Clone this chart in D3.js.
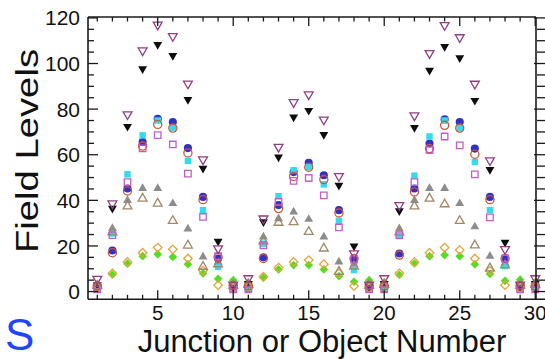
<!DOCTYPE html>
<html>
<head>
<meta charset="utf-8">
<script src="https://cdn.jsdelivr.net/npm/d3@7"></script>
<style>
  html, body { margin: 0; padding: 0; background: #fff; }
  svg { display: block; }
  text { font-family: "Liberation Sans", Arial, sans-serif; fill: #111; }
</style>
</head>
<body>
<script>
// Junction / object index
const junctions = d3.range(1, 31);

// Field levels per junction for each measurement set
const openTriDown  = [5.5, 38.6, 77.7, 105.7, 117, 112, 91.2, 57.9, 18.9, 3, 5.8, 32, 63.4, 83, 86.4, 75.4, 50.6, 16.7, 3, 5.8, 37.9, 77.2, 104.5, 116.8, 111.5, 91.1, 57.5, 18.6, 3, 5.8];
const filledTriDown = [3, 36.5, 72.4, 97.7, 108.3, 103.5, 84.2, 54, 22, 2, 3.5, 30.6, 59, 76.5, 79.4, 68.8, 46.6, 19.9, 2, 3.5, 35.4, 71.9, 97, 107.4, 102.5, 83.8, 53.5, 21.6, 2, 3.5];
const filledCircle = [1.5, 18, 45.2, 65.6, 75.8, 74.3, 62.9, 41.5, 14.5, 1.5, 1.5, 15, 37.9, 52.4, 56.5, 51, 35.7, 14, 1.5, 1.5, 16.7, 45.2, 64.9, 75.5, 74.3, 62.7, 41.5, 14, 1.5, 1.5];
const openCircle   = [2.5, 17, 44.1, 63.8, 73.3, 71.7, 60.8, 40.3, 15, 2.5, 2.5, 14.5, 36.4, 50.5, 54.5, 49.1, 34.5, 14.5, 2.5, 2.5, 16, 43.7, 62.7, 72.9, 71.7, 60.2, 40.3, 14.5, 2.5, 2.5];
const filledSquare = [1.5, 25.5, 51.4, 68.5, 75, 71.9, 57.3, 35.7, 10.8, 1.5, 1.5, 21, 41.8, 53.2, 54.6, 47, 31, 9.4, 1.5, 1.5, 24.3, 50.8, 68, 75, 71.7, 56.8, 35.7, 11.2, 1.5, 1.5];
const openSquare   = [1, 24.7, 48, 62.8, 68.6, 64.5, 51.7, 32.7, 15.5, 1, 1, 20.3, 39.3, 48.5, 49.8, 42.2, 28.1, 14, 1, 1, 24.7, 48, 62, 68, 64.1, 51.4, 32.5, 14.5, 1, 1];
const filledTriUp  = [3, 27.7, 40, 45.2, 45.2, 38.6, 27.5, 15.2, 13, 3.5, 3, 24, 32, 34.9, 31.7, 24, 13, 12, 3.5, 3, 27.6, 40, 45.2, 45.2, 38.6, 28.4, 15.5, 12.5, 3.5, 3];
const openTriUp    = [2.5, 26, 37.4, 40.8, 38.6, 31, 20.2, 10.9, 12, 2.5, 3, 22, 30.2, 30.5, 26.2, 18.9, 8.7, 11, 2.5, 3, 26, 37.4, 40.8, 38.3, 31, 20.3, 10.2, 11.5, 2.5, 3];
const openDiamond  = [2, 8, 13, 17, 19.3, 18.5, 14.5, 9.2, 2.8, 1.5, 2, 6.5, 10.5, 13, 13.8, 12, 8, 2.4, 1.5, 2, 8, 13, 17, 19.3, 18.2, 14.5, 9.1, 2.8, 1.5, 2];
const filledDiamond = [3, 7.4, 12.2, 15.5, 16.4, 15.2, 12, 8, 5.6, 5, 4, 6.1, 9.7, 11.6, 11.6, 9.7, 6.8, 4.3, 5, 4, 7.3, 12.3, 15.5, 16, 15.5, 12, 7.7, 4.7, 5.2, 4];

// Axis ticks
const xMajorTicks = [5, 10, 15, 20, 25, 30];
const yMajorTicks = [0, 20, 40, 60, 80, 100, 120];

const W = 545, H = 359;
const plot = { left: 88, right: 536, top: 17, bottom: 299.3 };

const x = d3.scaleLinear().domain([0.384, 30.05]).range([plot.left, plot.right]);
const y = d3.scaleLinear().domain([-3.4, 120.4]).range([plot.bottom, plot.top]);

const svg = d3.select("body").append("svg").attr("width", W).attr("height", H);

// marker definitions, in drawing order (filled first, outlines on top)
const series = [
  { values: filledDiamond, shape: d3.symbolSquare,   rot: 45,  fill: "#55dd22", stroke: "none",    size: 38 },
  { values: filledTriUp,   shape: d3.symbolTriangle, rot: 0,   fill: "#8c8c8c", stroke: "none",    size: 34 },
  { values: filledCircle,  shape: d3.symbolCircle,   rot: 0,   fill: "#3330c8", stroke: "none",    size: 52 },
  { values: filledSquare,  shape: d3.symbolSquare,   rot: 0,   fill: "#33dcec", stroke: "none",    size: 42 },
  { values: filledTriDown, shape: d3.symbolTriangle, rot: 180, fill: "#0d0d0d", stroke: "none",    size: 34 },
  { values: openDiamond,   shape: d3.symbolSquare,   rot: 45,  fill: "none",    stroke: "#e8a23a", size: 36 },
  { values: openTriUp,     shape: d3.symbolTriangle, rot: 0,   fill: "none",    stroke: "#a08868", size: 34 },
  { values: openCircle,    shape: d3.symbolCircle,   rot: 0,   fill: "none",    stroke: "#cc5533", size: 52 },
  { values: openSquare,    shape: d3.symbolSquare,   rot: 0,   fill: "none",    stroke: "#c25ec4", size: 42 },
  { values: openTriDown,   shape: d3.symbolTriangle, rot: 180, fill: "none",    stroke: "#8f3f82", size: 34 }
];

const marks = svg.append("g");
series.forEach(s => {
  const path = d3.symbol().type(s.shape).size(s.size)();
  marks.append("g").selectAll("path")
    .data(junctions.map((j, i) => ({ j, v: s.values[i] })))
    .join("path")
    .attr("d", path)
    .attr("transform", d => `translate(${x(d.j)},${y(d.v)}) rotate(${s.rot})`)
    .attr("fill", s.fill)
    .attr("stroke", s.stroke)
    .attr("stroke-width", s.stroke === "none" ? 0 : 1.3);
});

// frame and ticks
const axisColor = "#1a1a1a";
const frame = svg.append("g").attr("stroke", axisColor).attr("fill", "none");
frame.append("line").attr("x1", plot.left).attr("x2", 545).attr("y1", plot.bottom).attr("y2", plot.bottom).attr("stroke-width", 1.6);
frame.append("line").attr("x1", plot.left).attr("x2", plot.right).attr("y1", plot.top).attr("y2", plot.top).attr("stroke-width", 1.6);
frame.append("line").attr("x1", plot.left).attr("x2", plot.left).attr("y1", plot.top).attr("y2", plot.bottom).attr("stroke-width", 1.6);
frame.append("line").attr("x1", plot.right).attr("x2", plot.right).attr("y1", plot.top).attr("y2", plot.bottom).attr("stroke-width", 1.6);

const xMinor = d3.range(1, 31);
xMinor.forEach(t => {
  const major = xMajorTicks.includes(t);
  const px = x(t);
  const len = major ? 9 : 4.5;
  frame.append("line").attr("x1", px).attr("x2", px).attr("y1", plot.bottom).attr("y2", plot.bottom - len).attr("stroke-width", 1.3);
  frame.append("line").attr("x1", px).attr("x2", px).attr("y1", plot.top).attr("y2", plot.top + len).attr("stroke-width", 1.3);
});

const yMinor = d3.range(0, 121, 5);
yMinor.forEach(t => {
  const major = yMajorTicks.includes(t);
  const py = y(t);
  frame.append("line").attr("x1", plot.left).attr("x2", plot.left + (major ? 10 : 6)).attr("y1", py).attr("y2", py).attr("stroke-width", 1.3);
  frame.append("line").attr("x1", major ? plot.right - 2 : plot.right + 1).attr("x2", 548).attr("y1", py).attr("y2", py).attr("stroke-width", 1.3);
});

// tick labels
svg.append("g").selectAll("text").data(yMajorTicks).join("text")
  .attr("x", 80).attr("y", d => y(d)).attr("dy", "0.36em")
  .attr("text-anchor", "end").attr("font-size", 21)
  .text(d => d);

svg.append("g").selectAll("text").data(xMajorTicks).join("text")
  .attr("x", d => x(d)).attr("y", 319.5)
  .attr("text-anchor", "middle").attr("font-size", 20.5)
  .text(d => d);

// axis titles
svg.append("text").attr("x", 322).attr("y", 352.3)
  .attr("text-anchor", "middle").attr("font-size", 31)
  .text("Junction or Object Number");

svg.append("text")
  .attr("transform", "translate(38,151) rotate(-90)")
  .attr("text-anchor", "middle").attr("font-size", 31)
  .attr("textLength", 204).attr("lengthAdjust", "spacingAndGlyphs")
  .text("Field Levels");

svg.append("text").attr("x", 5).attr("y", 350)
  .attr("font-size", 44).style("fill", "#2244ff")
  .text("S");
</script>
</body>
</html>
